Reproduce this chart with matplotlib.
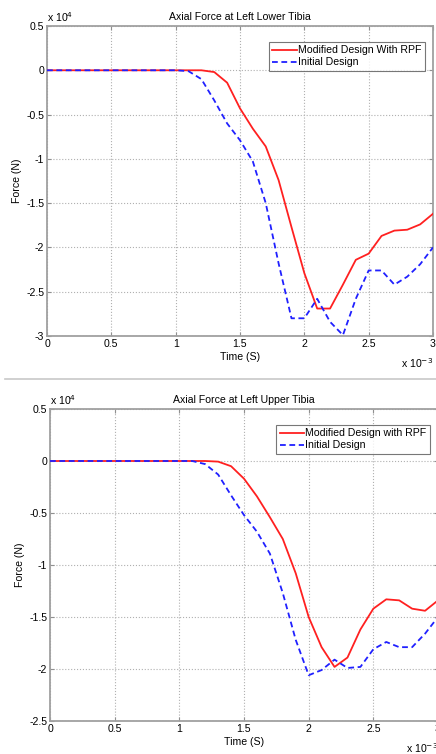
import numpy as np
import matplotlib
matplotlib.use('Agg')
import matplotlib.pyplot as plt

# ==============================================================================
#                                    DATA
# ==============================================================================

# time in units of 1e-3 s, force in units of 1e4 N
time_ms = [0.0, 0.1, 0.2, 0.3, 0.4, 0.5, 0.6, 0.7, 0.8, 0.9, 1.0,
           1.1, 1.2, 1.3, 1.4, 1.5, 1.6, 1.7, 1.8, 1.9, 2.0,
           2.1, 2.2, 2.3, 2.4, 2.5, 2.6, 2.7, 2.8, 2.9, 3.0]

lower_modified = [0, 0, 0, 0, 0, 0, 0, 0, 0, 0, 0,
                  0, 0, -0.02, -0.14, -0.43, -0.66, -0.86, -1.24, -1.77, -2.29,
                  -2.69, -2.69, -2.42, -2.14, -2.07, -1.87, -1.81, -1.80, -1.74, -1.62]
lower_initial = [0, 0, 0, 0, 0, 0, 0, 0, 0, 0, 0,
                 -0.01, -0.10, -0.34, -0.60, -0.79, -1.03, -1.50, -2.18, -2.80, -2.80,
                 -2.58, -2.84, -2.99, -2.58, -2.26, -2.26, -2.42, -2.33, -2.19, -2.00]

upper_modified = [0, 0, 0, 0, 0, 0, 0, 0, 0, 0, 0,
                  0, 0, -0.006, -0.05, -0.17, -0.34, -0.54, -0.75, -1.08, -1.50,
                  -1.79, -1.98, -1.89, -1.62, -1.42, -1.33, -1.34, -1.42, -1.44, -1.34]
upper_initial = [0, 0, 0, 0, 0, 0, 0, 0, 0, 0, 0,
                 0, -0.03, -0.13, -0.33, -0.52, -0.68, -0.89, -1.27, -1.72, -2.06,
                 -2.01, -1.91, -1.99, -1.98, -1.81, -1.74, -1.79, -1.79, -1.66, -1.50]

x_ticks = [0, 0.5, 1, 1.5, 2, 2.5, 3]
x_tick_labels = ['0', '0.5', '1', '1.5', '2', '2.5', '3']
y_ticks_lower = [0.5, 0, -0.5, -1, -1.5, -2, -2.5, -3]
y_ticks_upper = [0.5, 0, -0.5, -1, -1.5, -2, -2.5]

# ==============================================================================
#                                    PLOT
# ==============================================================================

plt.rcParams['font.family'] = ['Liberation Sans', 'DejaVu Sans']
plt.rcParams['axes.unicode_minus'] = False
fs = 7.6

fig = plt.figure(figsize=(4.36, 7.54), dpi=100)
W, H = 436.0, 754.0


def make_axes(l, r, t, b):
    return fig.add_axes([l / W, 1 - b / H, (r - l) / W, (b - t) / H])


def style_axes(ax, yticks, ylim, title):
    ax.set_xlim(0, 3)
    ax.set_ylim(*ylim)
    ax.set_xticks(x_ticks)
    ax.set_xticklabels(x_tick_labels)
    ax.set_yticks(yticks)
    ax.set_yticklabels(['%g' % v for v in yticks])
    ax.grid(True, which='major', linestyle=':', color='#b0b0b0', linewidth=0.8, zorder=0)
    ax.tick_params(direction='in', length=3, labelsize=fs, color='#909090',
                   top=True, right=True, pad=2)
    for s in ax.spines.values():
        s.set_color('#a0a0a0')
        s.set_linewidth(1.3)
    ax.set_title(title, fontsize=fs, pad=4)
    ax.set_xlabel('Time (S)', fontsize=fs, labelpad=2)
    ax.set_ylabel('Force (N)', fontsize=fs, labelpad=3)
    leg = ax.legend(loc='upper right', bbox_to_anchor=(0.98, 0.95), fontsize=fs,
                    frameon=True, fancybox=False, handlelength=2.3,
                    handletextpad=0.15, borderpad=0.35, labelspacing=0.2, borderaxespad=0)
    leg.get_frame().set_edgecolor('#555555')
    leg.get_frame().set_linewidth(0.8)
    ax.text(0.0, 1.005, r'x 10$^{4}$', transform=ax.transAxes, fontsize=fs,
            ha='left', va='bottom')
    ax.text(1.0, -0.086, r'x 10$^{-3}$', transform=ax.transAxes, fontsize=fs,
            ha='right', va='center')


dash = (0, (3.2, 2.0))

# Top: lower tibia
ax1 = make_axes(47, 433, 26, 336)
ax1.plot(time_ms, lower_modified, color='#ff2020', linewidth=1.3, label='Modified Design With RPF', zorder=3)
ax1.plot(time_ms, lower_initial, color='#2020ff', linewidth=1.3, linestyle=dash, label='Initial Design', zorder=3)
style_axes(ax1, y_ticks_lower, (-3, 0.5), 'Axial Force at Left Lower Tibia')

# Bottom: upper tibia
ax2 = make_axes(50, 438, 409, 721)
ax2.plot(time_ms, upper_modified, color='#ff2020', linewidth=1.3, label='Modified Design with RPF', zorder=3)
ax2.plot(time_ms, upper_initial, color='#2020ff', linewidth=1.3, linestyle=dash, label='Initial Design', zorder=3)
style_axes(ax2, y_ticks_upper, (-2.5, 0.5), 'Axial Force at Left Upper Tibia')

# separator line between the two figures
fig.add_artist(plt.Line2D([5 / W, 1.0], [1 - 379 / H, 1 - 379 / H], color='#c8c8c8', linewidth=1.2))

fig.savefig('out.png', dpi=100)
